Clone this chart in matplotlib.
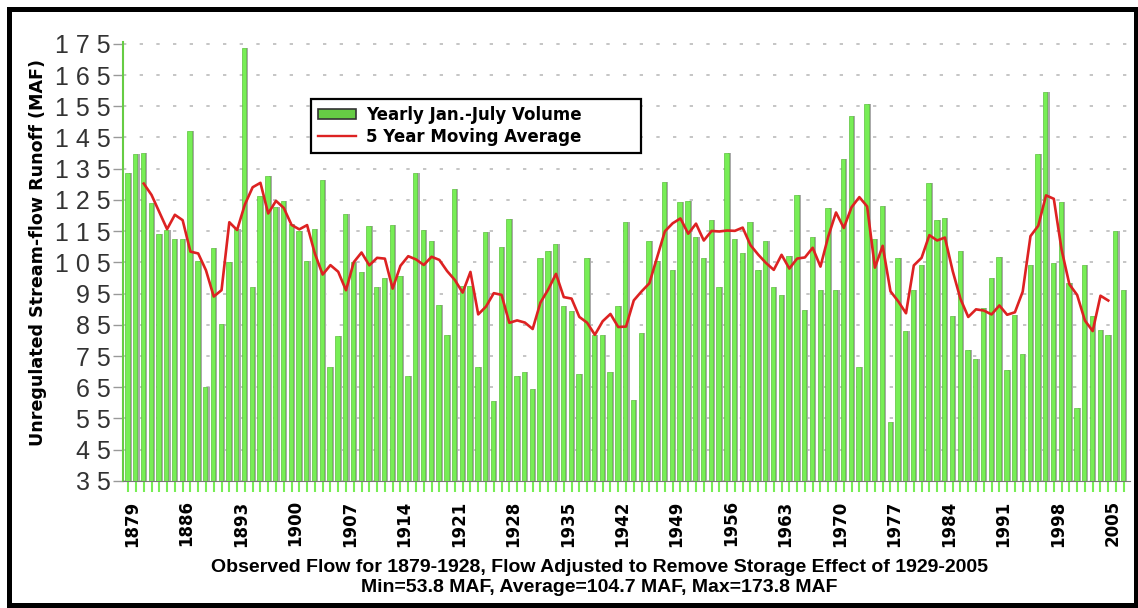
import matplotlib
matplotlib.use("Agg")
import matplotlib.pyplot as plt
import matplotlib.transforms as mtransforms
from matplotlib.patches import Patch, Rectangle
from matplotlib.lines import Line2D
import numpy as np
import pandas as pd

# Jan.-July volume, MAF, one value per year 1879-2007
years = np.arange(1879, 2008)
volume = [
    133.6, 139.6, 140.0, 124.0, 114.0, 115.4, 112.4, 112.4, 147.0, 105.4,  # 1879-1888
    65.0, 109.5, 85.4, 105.0, 115.6, 173.8, 97.0, 126.3, 132.6, 122.7,     # 1889-1898
    124.7, 117.2, 115.0, 105.4, 115.6, 131.5, 71.5, 81.5, 120.5, 105.0,    # 1899-1908
    101.8, 116.5, 97.0, 100.0, 117.0, 100.5, 68.5, 133.5, 115.4, 111.9,    # 1909-1918
    91.5, 81.7, 128.5, 97.5, 97.5, 71.4, 114.8, 60.5, 110.0, 119.0,        # 1919-1928
    68.7, 70.0, 64.4, 106.5, 108.7, 111.0, 91.0, 89.4, 69.3, 106.3,        # 1929-1938
    81.7, 81.7, 70.0, 91.0, 118.0, 60.8, 82.4, 111.9, 105.4, 130.9,        # 1939-1948
    102.4, 124.2, 124.7, 113.2, 106.4, 118.5, 97.2, 140.0, 112.4, 107.9,   # 1949-1958
    118.0, 102.4, 111.9, 97.2, 94.5, 107.0, 126.5, 89.9, 113.2, 96.3,      # 1959-1968
    122.5, 96.3, 138.0, 151.8, 71.5, 155.8, 112.4, 123.1, 53.8, 106.4,     # 1969-1978
    83.0, 96.3, 104.0, 130.4, 118.6, 119.3, 87.8, 108.6, 76.9, 73.9,       # 1979-1988
    90.4, 100.0, 106.7, 70.6, 88.3, 75.5, 104.0, 139.7, 159.5, 104.9,      # 1989-1998
    124.2, 98.5, 58.3, 104.0, 87.8, 83.2, 81.7, 114.9, 96.3,               # 1999-2007
]
tick_years = np.arange(1879, 2006, 7)
y_ticks = np.arange(35, 176, 10)

# centred 5 year moving average
moving_avg = pd.Series(volume, index=years).rolling(5, center=True).mean()

fig = plt.figure(figsize=(11.38, 6.08), dpi=100)
ax = fig.add_axes([0.108, 0.209, 0.885, 0.722])

bar_green = "#77ee55"
ax.bar(years + 0.3, volume, width=0.32, color="#aaaaaa", zorder=2)
ax.bar(years - 0.1, volume, width=0.56, color=bar_green, edgecolor="#5cc13c",
       linewidth=0.5, zorder=3)
ax.plot(years, moving_avg, color="#dd2222", lw=1.9, zorder=4)

ax.set_xlim(1878.32, 2007.8)
ax.set_ylim(35, 175.6)

ax.yaxis.grid(True, color="#bbbbbb", linestyle=(0, (2, 8)), lw=1.2)
ax.set_axisbelow(True)

for s in ["top", "right"]:
    ax.spines[s].set_visible(False)
ax.spines["left"].set_color("#66cc44")
ax.spines["left"].set_linewidth(1.5)
ax.spines["bottom"].set_color("#777777")

ax.set_yticks(y_ticks, labels=[" ".join(str(v)) for v in y_ticks])
ax.tick_params(axis="y", length=7, width=1, color="#999999", pad=2,
               labelsize=18, labelcolor="#333333")
for lab in ax.get_yticklabels():
    lab.set_fontfamily("Liberation Sans")

ax.set_xticks(tick_years)
ax.set_xticklabels([str(y) for y in tick_years], rotation=90,
                   fontsize=12, fontweight="bold")
ax.set_xticks(years, minor=True)
ax.tick_params(axis="x", which="both", length=8, width=1.5, color="#77ee55", pad=6)
offset = mtransforms.ScaledTranslation(4 / 100, 0, fig.dpi_scale_trans)
for lab in ax.get_xticklabels():
    lab.set_transform(lab.get_transform() + offset)

fig.text(0.033, 0.5855, "Unregulated Stream-flow Runoff (MAF)", rotation=90,
         ha="center", va="center", fontsize=12.6, fontweight="bold")

narrow = ["Liberation Sans Narrow", "Liberation Sans"]
fig.text(0.527, 0.0674,
         "Observed Flow for 1879-1928, Flow Adjusted to Remove Storage Effect of 1929-2005",
         ha="center", va="center", fontsize=14, fontweight="bold", family=narrow)
fig.text(0.527, 0.0329, "Min=53.8 MAF, Average=104.7 MAF, Max=173.8 MAF",
         ha="center", va="center", fontsize=14, fontweight="bold", family=narrow)

handles = [
    Patch(facecolor="#66cc44", edgecolor="#333333", linewidth=1.2),
    Line2D([], [], color="#dd2222", lw=1.7),
]
leg = ax.legend(handles, ["Yearly Jan.-July Volume", "5 Year Moving Average"],
                loc="upper left", bbox_to_anchor=(0.187, 0.0, 0.327, 0.870),
                mode="expand", borderaxespad=0,
                fancybox=False, framealpha=1, edgecolor="black",
                prop={"weight": "bold", "size": 12}, handlelength=2.3,
                handleheight=0.55, labelspacing=0.25, borderpad=0.4,
                handletextpad=0.6)
leg.get_frame().set_linewidth(1.6)
leg.set_zorder(10)

fig.patches.append(Rectangle((0.0083, 0.005), 0.99, 0.98, transform=fig.transFigure,
                             fill=False, lw=3.6, ec="black"))

fig.savefig("out.png", dpi=100)
